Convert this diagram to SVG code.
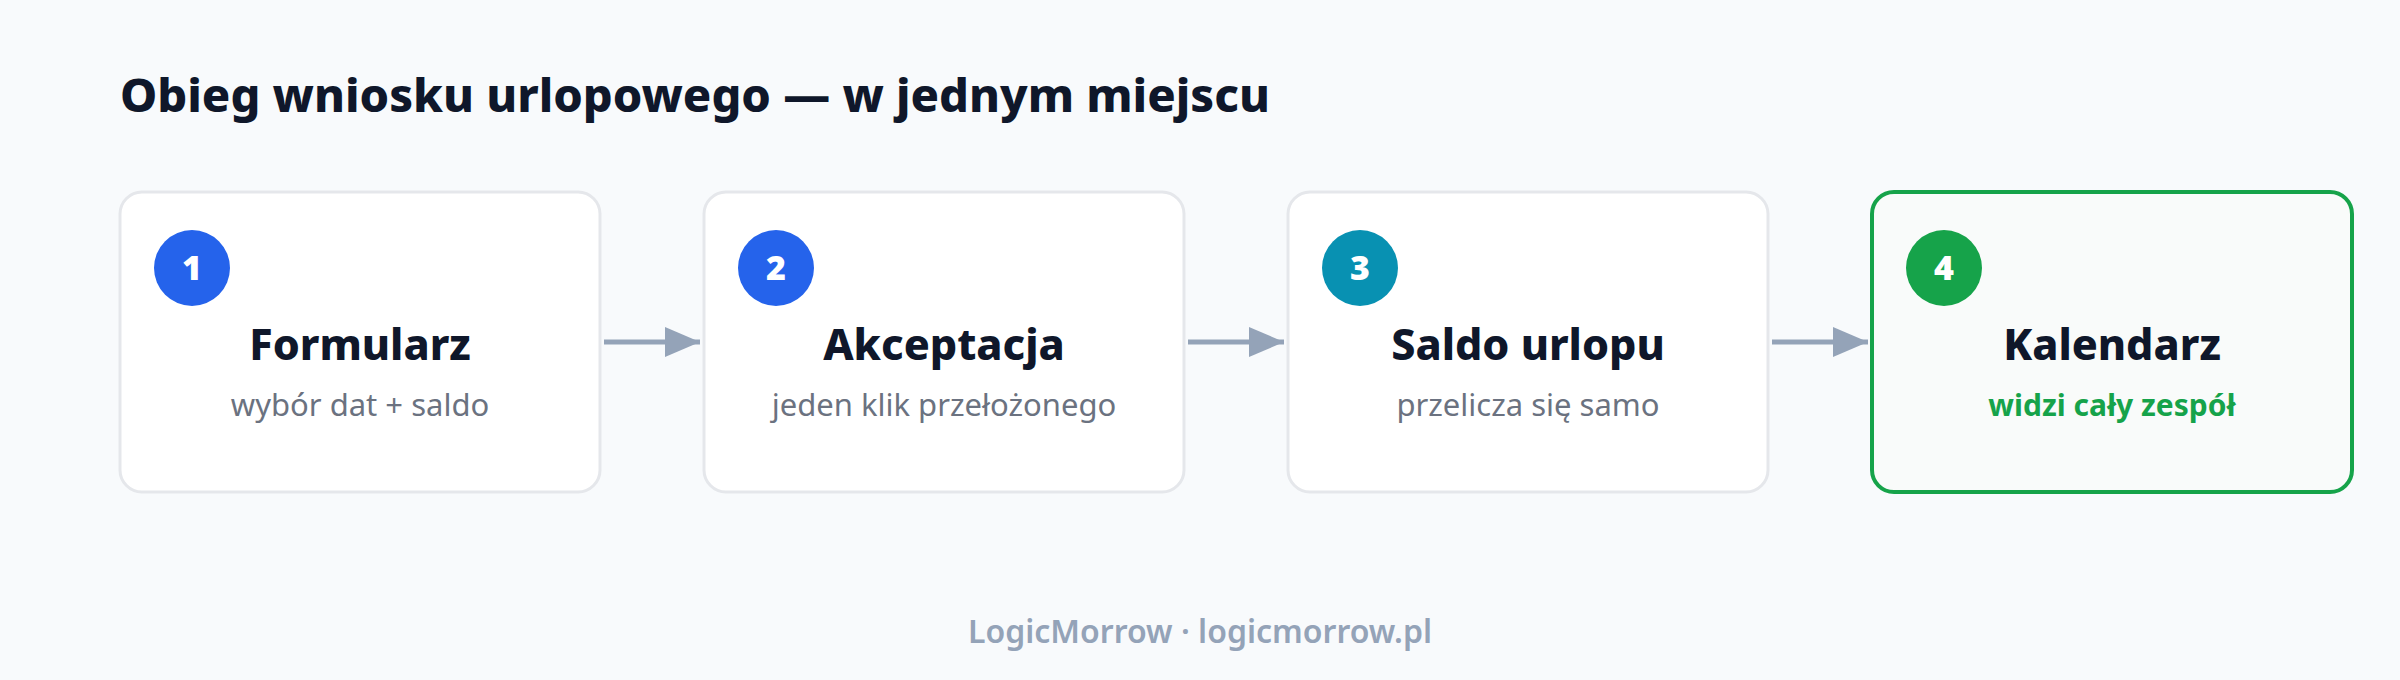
<svg xmlns="http://www.w3.org/2000/svg" width="2400" height="680" viewBox="0 0 2400 680">
  <defs>
    <marker id="arrow" viewBox="0 0 35 30" refX="35" refY="15" markerWidth="35" markerHeight="30" markerUnits="userSpaceOnUse" orient="auto">
      <path d="M0,0 L35,15 L0,30 Z" fill="#94a3b8"/>
    </marker>
    <style>
      .card { fill: #ffffff; stroke: #e5e7eb; stroke-width: 3; }
      .card-final { fill: #f9fbfa; stroke: #16a34a; stroke-width: 4; }
      .num { font-family: "Noto Sans", "Open Sans", sans-serif; font-weight: 900; font-size: 34px; fill: #ffffff; text-anchor: middle; }
      .head { font-family: "Noto Sans", "Open Sans", sans-serif; font-weight: 800; font-size: 43px; fill: #0f172a; text-anchor: middle; }
      .sub { font-family: "Noto Sans", "Open Sans", sans-serif; font-weight: 400; font-size: 31px; fill: #6b7280; text-anchor: middle; }
      .sub-final { font-family: "Noto Sans", "Open Sans", sans-serif; font-weight: 700; font-size: 30px; fill: #16a34a; text-anchor: middle; }
      .title { font-family: "Noto Sans", "Open Sans", sans-serif; font-weight: 800; font-size: 47px; fill: #0f172a; }
      .footer { font-family: "Noto Sans", "Open Sans", sans-serif; font-weight: 600; font-size: 32px; fill: #94a3b8; text-anchor: middle; }
      .conn { stroke: #94a3b8; stroke-width: 5; fill: none; }
    </style>
  </defs>
  <rect x="0" y="0" width="2400" height="680" fill="#f8fafc"/>
  <text class="title" x="120" y="112">Obieg wniosku urlopowego — w jednym miejscu</text>

  <g id="connectors">
    <line class="conn" x1="604" y1="342" x2="700" y2="342" marker-end="url(#arrow)"/>
    <line class="conn" x1="1188" y1="342" x2="1284" y2="342" marker-end="url(#arrow)"/>
    <line class="conn" x1="1772" y1="342" x2="1868" y2="342" marker-end="url(#arrow)"/>
  </g>

  <g id="node-1">
    <rect class="card" x="120" y="192" width="480" height="300" rx="22"/>
    <circle cx="192" cy="268" r="38" fill="#2563eb"/>
    <text class="num" x="192" y="280">1</text>
    <text class="head" x="360" y="360">Formularz</text>
    <text class="sub" x="360" y="416">wybór dat + saldo</text>
  </g>

  <g id="node-2">
    <rect class="card" x="704" y="192" width="480" height="300" rx="22"/>
    <circle cx="776" cy="268" r="38" fill="#2563eb"/>
    <text class="num" x="776" y="280">2</text>
    <text class="head" x="944" y="360">Akceptacja</text>
    <text class="sub" x="944" y="416">jeden klik przełożonego</text>
  </g>

  <g id="node-3">
    <rect class="card" x="1288" y="192" width="480" height="300" rx="22"/>
    <circle cx="1360" cy="268" r="38" fill="#0891b2"/>
    <text class="num" x="1360" y="280">3</text>
    <text class="head" x="1528" y="360">Saldo urlopu</text>
    <text class="sub" x="1528" y="416">przelicza się samo</text>
  </g>

  <g id="node-4">
    <rect class="card-final" x="1872" y="192" width="480" height="300" rx="22"/>
    <circle cx="1944" cy="268" r="38" fill="#16a34a"/>
    <text class="num" x="1944" y="280">4</text>
    <text class="head" x="2112" y="360">Kalendarz</text>
    <text class="sub-final" x="2112" y="416">widzi cały zespół</text>
  </g>

  <text class="footer" x="1200" y="643">LogicMorrow · logicmorrow.pl</text>
</svg>
